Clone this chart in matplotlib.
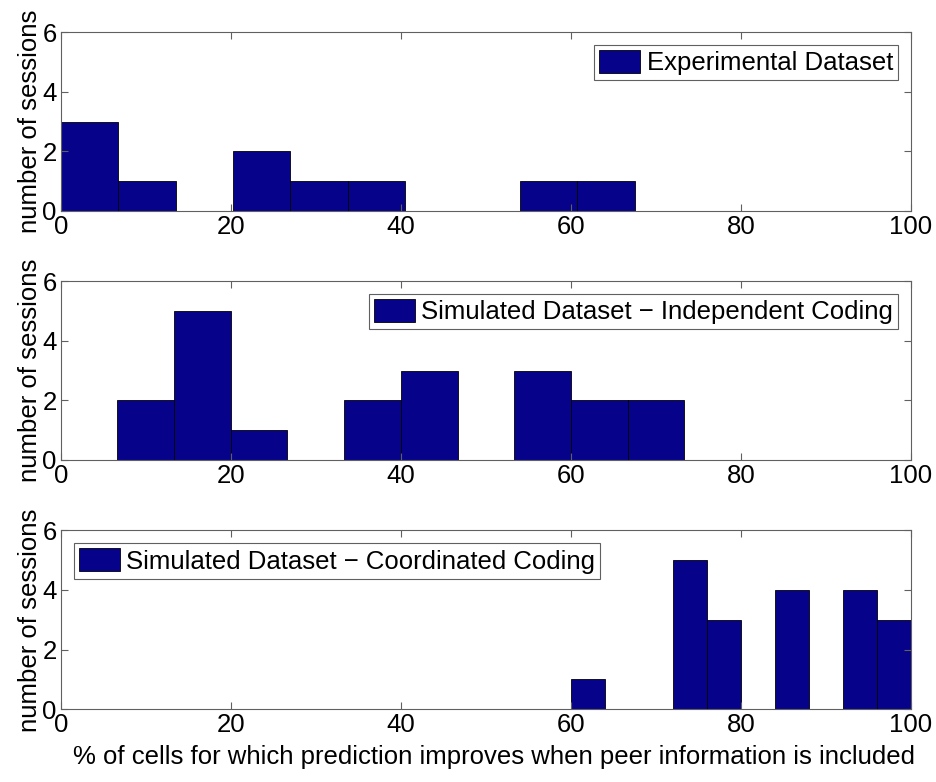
import numpy as np
import matplotlib
matplotlib.use('Agg')
import matplotlib.pyplot as plt

plt.rcParams['font.family'] = ['Liberation Sans', 'DejaVu Sans']

# histogram bins (edges) and session counts per panel
edges_exp = np.linspace(0, 67.5, 11)
counts_exp = [3, 1, 0, 2, 1, 1, 0, 0, 1, 1]

edges_ind = np.linspace(0, 100, 16)
counts_ind = [0, 2, 5, 1, 0, 2, 3, 0, 3, 2, 2, 0, 0, 0, 0]

edges_coord = np.linspace(0, 100, 26)
counts_coord = [0] * 15 + [1, 0, 0, 5, 3, 0, 4, 0, 4, 3]

labels = ["Experimental Dataset",
          "Simulated Dataset \u2212 Independent Coding",
          "Simulated Dataset \u2212 Coordinated Coding"]
legend_loc = ["upper right", "upper right", "upper left"]

xticks = [0, 20, 40, 60, 80, 100]
yticks = [0, 2, 4, 6]

BAR = '#06038a'
FRAME = '#606060'
FS = 18.5

fig = plt.figure(figsize=(9.37, 7.82), dpi=100)
left, width, height = 0.0648, 0.9075, 0.2288
bottoms = [0.7302, 0.4118, 0.0930]

panels = [(edges_exp, counts_exp), (edges_ind, counts_ind), (edges_coord, counts_coord)]

for i, (edges, counts) in enumerate(panels):
    ax = fig.add_axes([left, bottoms[i], width, height])
    counts = np.asarray(counts, dtype=float)
    widths = np.diff(edges)
    nz = counts > 0
    ax.bar(edges[:-1][nz], counts[nz], width=widths[nz], align='edge',
           color=BAR, edgecolor='black', linewidth=0.6, label=labels[i])
    ax.set_xlim(0, 100)
    ax.set_ylim(0, 6)
    ax.set_xticks(xticks)
    ax.set_yticks(yticks)
    ax.tick_params(direction='in', length=5, width=0.8, color=FRAME,
                   top=True, right=True, labelsize=FS, pad=3)
    for s in ax.spines.values():
        s.set_color(FRAME)
        s.set_linewidth(0.8)
    ax.set_ylabel("number of sessions", fontsize=FS, labelpad=0)
    leg = ax.legend(loc=legend_loc[i], fontsize=FS, fancybox=False,
                    framealpha=1, borderpad=0.2, handlelength=1.6,
                    handleheight=1.0, handletextpad=0.25, borderaxespad=0.5)
    leg.get_frame().set_edgecolor(FRAME)
    leg.get_frame().set_linewidth(0.8)
    if i == 2:
        ax.set_xlabel("% of cells for which prediction improves when peer information is included",
                      fontsize=FS, labelpad=12)
        ax.xaxis.set_label_coords(0.509, -0.2)
        ax.xaxis.label.set_va('top')

fig.savefig("out.png", dpi=100)
